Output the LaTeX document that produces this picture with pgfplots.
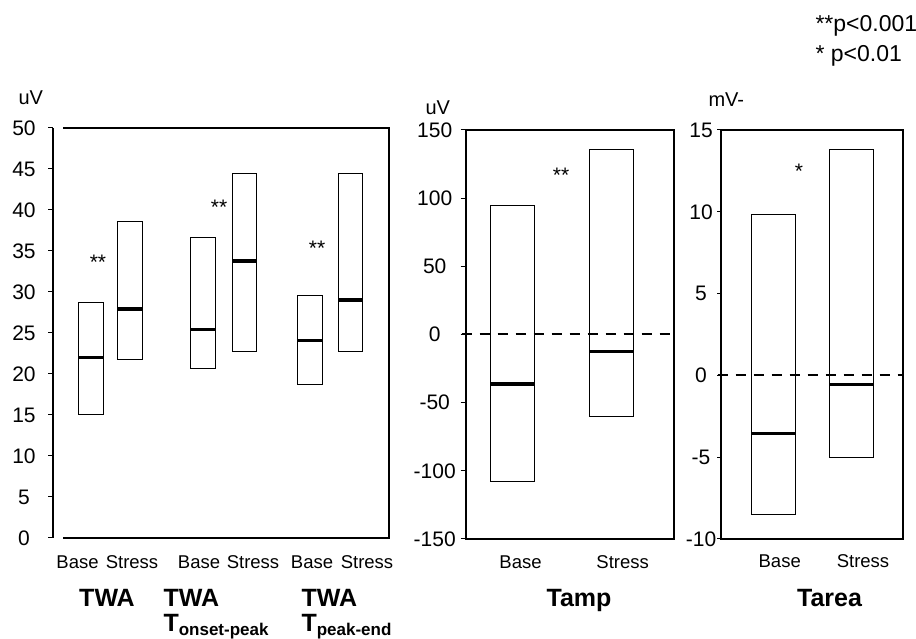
\documentclass[border=0pt]{standalone}
\usepackage{fontspec}
\setmainfont{Liberation Sans}
\usepackage{pgfplots}
\pgfplotsset{compat=1.18}
\usepgfplotslibrary{statistics}

\newcommand{\fs}[1]{\fontsize{#1bp}{#1bp}\selectfont}

\pgfplotsset{
  panel/.style={
    scale only axis, clip=false,
    axis line style={line width=2bp, -},
    ytick pos=left,
    major tick length=5bp,
    ytick style={line width=1bp, black},
    xtick style={draw=none},
    yticklabel style={font=\fs{21}, anchor=center},
    xticklabel style={font=\fs{18.5}, anchor=base, yshift=-26bp},
    /pgf/number format/assume math mode=true,
    boxplot/draw direction=y,
  },
  box/.style={black, line width=1bp,
    boxplot/whisker extend=0,
    boxplot/every median/.style={line width=3.5bp}},
  zero/.style={black, line width=2bp, dash pattern=on 10bp off 8bp},
}
\tikzset{sig/.style={font=\fs{21}, yshift=-4bp}}

\begin{document}
\begin{tikzpicture}
\path[use as bounding box] (0,0) rectangle (916bp,639bp);

% TWA panel
\begin{axis}[panel, at={(53bp,101bp)}, anchor=south west,
  width=336bp, height=410bp,
  xmin=53, xmax=389, ymin=0, ymax=50,
  axis lines=left, x axis line style={draw=none},
  y axis line style={-},
  tick align=outside,
  yticklabel style={xshift=-24bp},
  ytick={0,5,...,50},
  xtick={77.5,132,199,253,312,367},
  xticklabels={Base,Stress,Base,Stress,Base,Stress}]
\addplot[box, boxplot prepared={median=22, lower quartile=15, upper quartile=28.7,
  lower whisker=15, upper whisker=28.7, draw position=91, box extend=24.6}] coordinates {};
\addplot[box, boxplot prepared={median=27.9, lower quartile=21.8, upper quartile=38.6,
  lower whisker=21.8, upper whisker=38.6, draw position=130, box extend=24.6}] coordinates {};
\addplot[box, boxplot prepared={median=25.4, lower quartile=20.7, upper quartile=36.6,
  lower whisker=20.7, upper whisker=36.6, draw position=202.8, box extend=24.4}] coordinates {};
\addplot[box, boxplot prepared={median=33.8, lower quartile=22.7, upper quartile=44.5,
  lower whisker=22.7, upper whisker=44.5, draw position=244.3, box extend=23.4}] coordinates {};
\addplot[box, boxplot prepared={median=24.1, lower quartile=18.7, upper quartile=29.6,
  lower whisker=18.7, upper whisker=29.6, draw position=310, box extend=24.6}] coordinates {};
\addplot[box, boxplot prepared={median=29.0, lower quartile=22.7, upper quartile=44.5,
  lower whisker=22.7, upper whisker=44.5, draw position=350.5, box extend=24.4}] coordinates {};
\draw[line width=2bp] (axis cs:63,0) -- (axis cs:389,0) -- (axis cs:389,50) -- (axis cs:63,50);
\node[sig] at (axis cs:98,34.1) {**};
\node[sig] at (axis cs:219,40.8) {**};
\node[sig] at (axis cs:317,35.8) {**};
\end{axis}

% Tamp panel
\begin{axis}[panel, at={(465.7bp,100bp)}, anchor=south west,
  width=208.3bp, height=409bp,
  xmin=465.7, xmax=674, ymin=-150, ymax=150,
  tick align=outside,
  yticklabel style={xshift=-26bp},
  xticklabel style={yshift=2bp},
  ytick={-150,-100,...,150},
  yticklabels={-150,-100,-50,0,50,100,150},
  xtick={520.5,622.7}, xticklabels={Base,Stress}]
\addplot[zero] coordinates {(461.7,0) (674,0)};
\addplot[box, boxplot prepared={median=-36.3, lower quartile=-107.7, upper quartile=94.5,
  lower whisker=-107.7, upper whisker=94.5, draw position=512.7, box extend=44}] coordinates {};
\addplot[box, boxplot prepared={median=-12.6, lower quartile=-60.3, upper quartile=136,
  lower whisker=-60.3, upper whisker=136, draw position=611.2, box extend=44.3}] coordinates {};
\node[sig] at (axis cs:561,119.4) {**};
\end{axis}

% Tarea panel
\begin{axis}[panel, at={(721bp,100bp)}, anchor=south west,
  width=182.3bp, height=409bp,
  xmin=721, xmax=903.3, ymin=-10, ymax=15,
  tick align=outside, major tick length=4bp,
  yticklabel style={xshift=-16bp},
  xticklabel style={yshift=2bp},
  ytick={-10,-5,...,15},
  yticklabels={-10,-5,0,5,10,15},
  xtick={779.7,863}, xticklabels={Base,Stress}]
\addplot[zero] coordinates {(717.7,0) (903.3,0)};
\addplot[box, boxplot prepared={median=-3.54, lower quartile=-8.49, upper quartile=9.86,
  lower whisker=-8.49, upper whisker=9.86, draw position=773, box extend=44}] coordinates {};
\addplot[box, boxplot prepared={median=-0.55, lower quartile=-5.0, upper quartile=13.8,
  lower whisker=-5.0, upper whisker=13.8, draw position=851.2, box extend=44.3}] coordinates {};
\node[sig] at (axis cs:799,12.72) {*};
\end{axis}

% units
\node[anchor=base west, font=\fs{20}] at (15bp,534bp) {uV};
\node[anchor=base west, font=\fs{20}] at (422bp,524bp) {uV};
\node[anchor=base west, font=\fs{20}] at (705bp,532bp) {mV-};

% significance key
\node[anchor=base west, font=\fs{23}] at (812bp,607bp) {**p<0.001};
\node[anchor=base west, font=\fs{23}] at (812bp,577bp) {* p<0.01};

% group names
\begin{scope}[font=\bfseries\fs{25}]
\node[anchor=base] at (107bp,32.3bp) {TWA};
\node[anchor=base west] at (160bp,32.3bp) {TWA};
\node[anchor=base west] at (160bp,8bp) {T\raisebox{-4bp}{\fs{17}onset-peak}};
\node[anchor=base west] at (298bp,32.3bp) {TWA};
\node[anchor=base west] at (298bp,8bp) {T\raisebox{-4bp}{\fs{17}peak-end}};
\node[anchor=base] at (579bp,32.3bp) {Tamp};
\node[anchor=base] at (829.5bp,32.3bp) {Tarea};
\end{scope}
\end{tikzpicture}
\end{document}
